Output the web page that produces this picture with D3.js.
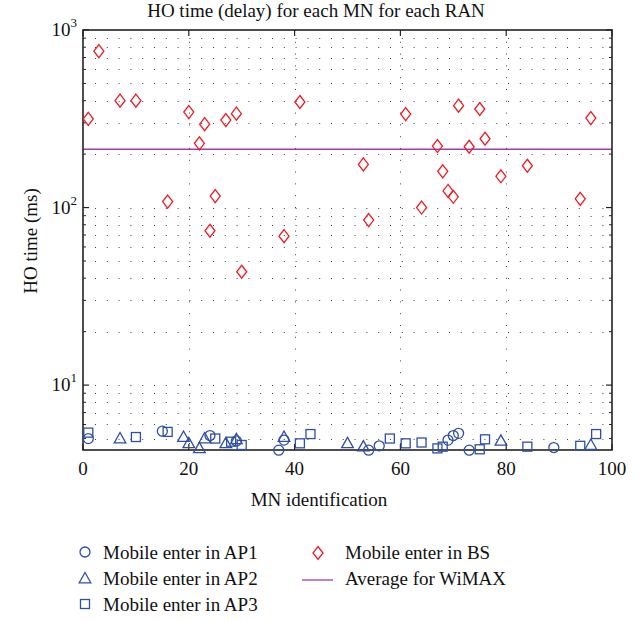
<!DOCTYPE html>
<html>
<head>
<meta charset="utf-8">
<script src="https://cdn.jsdelivr.net/npm/d3@7/dist/d3.min.js"></script>
<style>
html,body{margin:0;padding:0;background:#fff;}
svg{display:block;font-family:"Liberation Serif","DejaVu Serif",serif;}
</style>
</head>
<body>
<svg id="chart" width="643" height="621"></svg>
<script>
// ---- data ----
const bsX = [1,3,7,10,16,20,22,23,24,25,27,29,30,38,41,53,54,61,64,67,68,69,70,71,73,75,76,79,84,94,96];
const bsY = [316,760,400,400,108,345,230,295,74,116,311,338,43.5,69,393,175,85,336,100,222,160,124,115,375,220,359,244,150,172,112,319];
const ap1X = [1,15,24,29,37,38,54,56,69,70,71,73,89];
const ap1Y = [5.0,5.5,5.2,4.85,4.3,4.9,4.3,4.55,4.9,5.2,5.35,4.3,4.45];
const ap2X = [7,19,20,22,23,27,29,38,50,53,79,96];
const ap2Y = [5.0,5.1,4.7,4.4,5.0,4.7,4.95,5.1,4.7,4.5,4.85,4.6];
const ap3X = [1,10,16,25,28,30,41,43,58,61,64,67,68,75,76,84,94,97];
const ap3Y = [5.4,5.1,5.45,5.0,4.8,4.6,4.7,5.3,5.0,4.7,4.75,4.4,4.5,4.35,4.95,4.5,4.55,5.3];
const wimaxAvg = 213;
const xTicks = [0,20,40,60,80,100];
const yMajor = [10,100,1000];
const yMin = 4.31, yMax = 1000;
const title = "HO time (delay) for each MN for each RAN";
const xLabel = "MN identification";
const yLabel = "HO time (ms)";
const legendNames = ["Mobile enter in AP1","Mobile enter in AP2","Mobile enter in AP3","Mobile enter in BS","Average for WiMAX"];

// ---- layout ----
const L = 83, R = 612, T = 30, B = 450;
const blue = "#2f4fa5", red = "#ec1c24", purple = "#a33ea6", axisC = "#222";
const svg = d3.select("#chart");
const x = d3.scaleLinear().domain([0,100]).range([L,R]);
const y = d3.scaleLog().domain([yMin,yMax]).range([B,T]);

// minor tick values
const yMinor = [];
[1,10,100].forEach(d => { for (let k=2;k<=9;k++){ const v=d*k; if (v>=yMin && v<=yMax) yMinor.push(v);} });

// grid
const grid = svg.append("g").attr("stroke","#444").attr("stroke-width",1).attr("stroke-dasharray","1,10.8");
grid.selectAll("line.h").data(yMinor.concat([10,100])).enter().append("line")
  .attr("x1",L+2).attr("x2",R).attr("y1",d=>Math.round(y(d))+0.5).attr("y2",d=>Math.round(y(d))+0.5)
  .attr("stroke-dashoffset",-10);
grid.selectAll("line.v").data(xTicks.slice(1,-1)).enter().append("line")
  .attr("x1",d=>Math.round(x(d))+0.5).attr("x2",d=>Math.round(x(d))+0.5).attr("y1",T).attr("y2",B);

// average line
svg.append("line").attr("x1",L).attr("x2",R).attr("y1",y(wimaxAvg)).attr("y2",y(wimaxAvg))
  .attr("stroke",purple).attr("stroke-width",1.3);

// axes box & ticks
const ax = svg.append("g").attr("stroke",axisC).attr("fill","none");
ax.append("rect").attr("x",L).attr("y",T).attr("width",R-L).attr("height",B-T).attr("stroke-width",1.6);
yMajor.forEach(v=>{
  const yy=y(v);
  ax.append("line").attr("x1",L).attr("x2",L+6).attr("y1",yy).attr("y2",yy).attr("stroke-width",1.2);
  ax.append("line").attr("x1",R).attr("x2",R-6).attr("y1",yy).attr("y2",yy).attr("stroke-width",1.2);
});
yMinor.forEach(v=>{
  const yy=y(v);
  ax.append("line").attr("x1",L).attr("x2",L+3).attr("y1",yy).attr("y2",yy).attr("stroke-width",1);
  ax.append("line").attr("x1",R).attr("x2",R-3).attr("y1",yy).attr("y2",yy).attr("stroke-width",1);
});
xTicks.forEach(v=>{
  const xx=x(v);
  ax.append("line").attr("x1",xx).attr("x2",xx).attr("y1",B).attr("y2",B-6).attr("stroke-width",1.2);
  ax.append("line").attr("x1",xx).attr("x2",xx).attr("y1",T).attr("y2",T+6).attr("stroke-width",1.2);
});

// tick labels
const txt = svg.append("g").attr("fill","#111").attr("font-size",19);
txt.selectAll("text.xt").data(xTicks).enter().append("text")
  .attr("x",d=>x(d)).attr("y",475).attr("text-anchor","middle").text(d=>d);
yMajor.forEach(v=>{
  const t = txt.append("text").attr("x",77).attr("y",y(v)+6).attr("text-anchor","end");
  t.append("tspan").text("10");
  t.append("tspan").attr("font-size",13).attr("dy",-9).text(Math.round(Math.log10(v)));
});

// titles
txt.append("text").attr("x",316).attr("y",17).attr("text-anchor","middle").text(title);
txt.append("text").attr("x",319).attr("y",506).attr("text-anchor","middle").text(xLabel);
txt.append("text").attr("transform","translate(37,241) rotate(-90)").attr("text-anchor","middle").text(yLabel);

// markers
function circle(g,cx,cy){ g.append("circle").attr("cx",cx).attr("cy",cy).attr("r",5).attr("fill","none").attr("stroke",blue).attr("stroke-width",1.3); }
function tri(g,cx,cy){ const s=5.8; g.append("path").attr("d",`M${cx},${cy-6}L${cx+s},${cy+4.3}L${cx-s},${cy+4.3}Z`).attr("fill","none").attr("stroke",blue).attr("stroke-width",1.3); }
function sq(g,cx,cy){ g.append("rect").attr("x",cx-4.5).attr("y",cy-4.5).attr("width",9).attr("height",9).attr("fill","none").attr("stroke",blue).attr("stroke-width",1.3); }
function dia(g,cx,cy){ g.append("path").attr("d",`M${cx},${cy-6.5}L${cx+5},${cy}L${cx},${cy+6.5}L${cx-5},${cy}Z`).attr("fill","none").attr("stroke",red).attr("stroke-width",1.3); }

const mk = svg.append("g");
ap1X.forEach((d,i)=>circle(mk,x(d),y(ap1Y[i])));
ap2X.forEach((d,i)=>tri(mk,x(d),y(ap2Y[i])));
ap3X.forEach((d,i)=>sq(mk,x(d),y(ap3Y[i])));
bsX.forEach((d,i)=>dia(mk,x(d),y(bsY[i])));

// legend
const lg = svg.append("g");
circle(lg,85,552); tri(lg,85,578.5); sq(lg,85,604);
dia(lg,318,553);
lg.append("line").attr("x1",302).attr("x2",333).attr("y1",580).attr("y2",580).attr("stroke",purple).attr("stroke-width",1.3);
const lt = lg.append("g").attr("fill","#111").attr("font-size",19);
lt.append("text").attr("x",103).attr("y",559).text(legendNames[0]);
lt.append("text").attr("x",103).attr("y",585).text(legendNames[1]);
lt.append("text").attr("x",103).attr("y",611).text(legendNames[2]);
lt.append("text").attr("x",345).attr("y",559).text(legendNames[3]);
lt.append("text").attr("x",345).attr("y",585).text(legendNames[4]);
</script>
</body>
</html>
